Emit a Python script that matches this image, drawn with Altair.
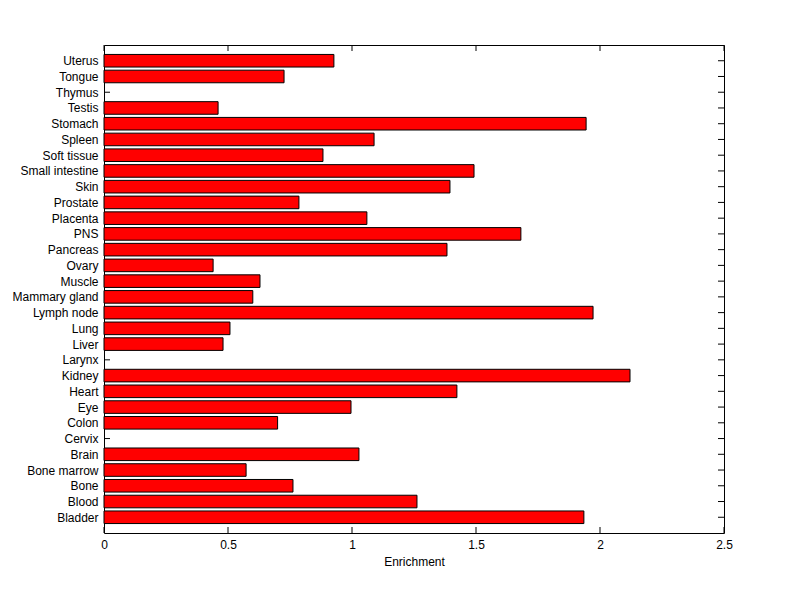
import altair as alt
import pandas as pd

tissues = ["Bladder", "Blood", "Bone", "Bone marrow", "Brain", "Cervix", "Colon", "Eye",
           "Heart", "Kidney", "Larynx", "Liver", "Lung", "Lymph node", "Mammary gland",
           "Muscle", "Ovary", "Pancreas", "PNS", "Placenta", "Prostate", "Skin",
           "Small intestine", "Soft tissue", "Spleen", "Stomach", "Testis", "Thymus",
           "Tongue", "Uterus"]
enrichment = [1.935, 1.262, 0.762, 0.573, 1.028, 0.0, 0.70, 0.996,
              1.423, 2.121, 0.0, 0.48, 0.508, 1.972, 0.60,
              0.629, 0.44, 1.383, 1.681, 1.06, 0.786, 1.395,
              1.492, 0.883, 1.089, 1.944, 0.46, 0.0,
              0.726, 0.927]
x_ticks = [0, 0.5, 1, 1.5, 2, 2.5]

n = len(tissues)
idx = list(range(1, n + 1))
df = pd.DataFrame({"tissue": tissues, "value": enrichment, "pos": idx})
df["lo"] = df["pos"] - 0.4
df["hi"] = df["pos"] + 0.4
df["zero"] = 0.0

W, H = 620, 488
FONT = "Liberation Sans, Arial, Helvetica, sans-serif"

label_map = "{" + ",".join(f"{i}:'{t}'" for i, t in zip(idx, tissues)) + "}"

xs = alt.Scale(domain=[0, 2.5], nice=False, zero=False)
ys = alt.Scale(domain=[0, n + 1], nice=False, zero=False)

x_axis = alt.Axis(values=x_ticks, ticks=False, domain=False, grid=False,
                  title="Enrichment", labelFont=FONT, titleFont=FONT,
                  labelFontSize=12, titleFontSize=12, titleFontWeight="normal",
                  labelColor="black", titleColor="black", labelPadding=6,
                  titlePadding=6, labelFlush=False, labelOverlap=False, format="~g")
y_axis = alt.Axis(values=idx, ticks=False, domain=False, grid=False, title=None,
                  labelExpr=f"{label_map}[datum.value]", labelFont=FONT,
                  labelFontSize=12, labelColor="black", labelPadding=6,
                  labelFlush=False, labelOverlap=False)

bars = alt.Chart(df).mark_rect(color="#ff0000", stroke="black", strokeWidth=1).transform_filter(
    alt.datum.value > 0
).encode(
    x=alt.X("zero:Q", scale=xs, axis=x_axis, title="Enrichment"),
    x2="value:Q",
    y=alt.Y("lo:Q", scale=ys, axis=y_axis, title=None),
    y2="hi:Q",
)

tdf = pd.DataFrame({"t": x_ticks})
xt_bottom = alt.Chart(tdf).mark_rule(color="black").encode(
    x=alt.X("t:Q", scale=xs, axis=x_axis, title="Enrichment"), y=alt.value(H), y2=alt.value(H - 6))
xt_top = alt.Chart(tdf).mark_rule(color="black").encode(
    x=alt.X("t:Q", scale=xs, axis=x_axis, title="Enrichment"), y=alt.value(0), y2=alt.value(6))
ydf = pd.DataFrame({"p": idx})
yt_left = alt.Chart(ydf).mark_rule(color="black").encode(
    y=alt.Y("p:Q", scale=ys, axis=y_axis, title=None), x=alt.value(0), x2=alt.value(6))
yt_right = alt.Chart(ydf).mark_rule(color="black").encode(
    y=alt.Y("p:Q", scale=ys, axis=y_axis, title=None), x=alt.value(W - 6), x2=alt.value(W))

chart = alt.layer(yt_left, xt_bottom, xt_top, yt_right, bars).properties(
    width=W, height=H,
    autosize=alt.AutoSizeParams(type="none"),
    padding={"left": 96, "top": 37, "right": 68, "bottom": 58},
    background="white",
).configure_view(stroke="black", strokeWidth=1)

chart.save("out.html", embed_options={"renderer": "svg", "actions": False})
